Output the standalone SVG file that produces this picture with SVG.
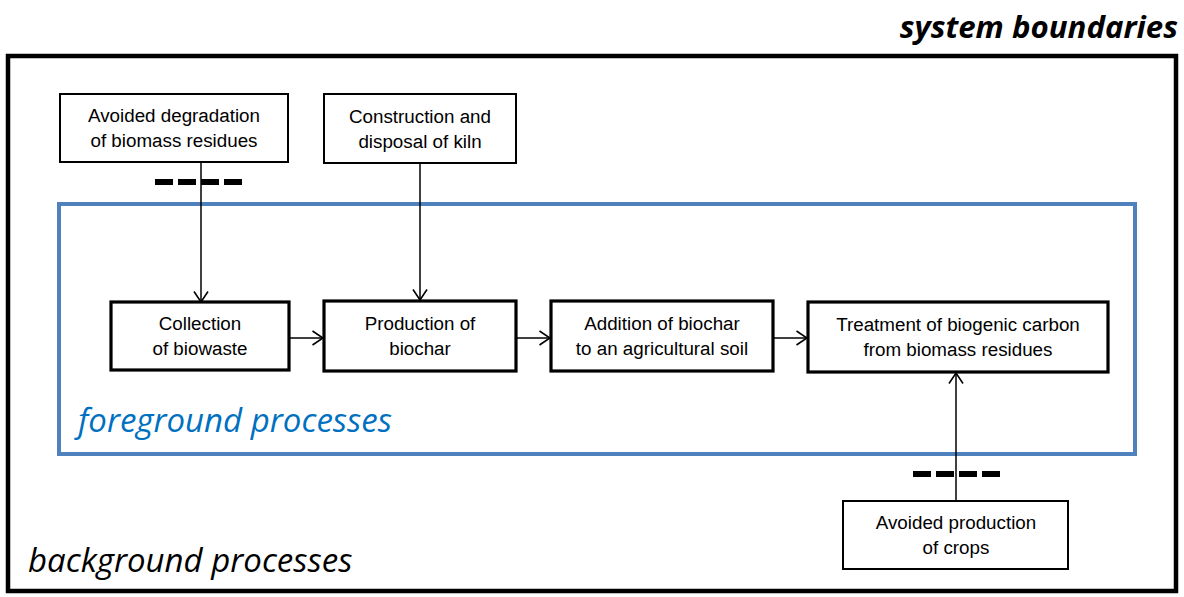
<svg xmlns="http://www.w3.org/2000/svg" width="1184" height="597" viewBox="0 0 1184 597">
<defs>
<marker id="arr" viewBox="0 0 12 16" refX="11.5" refY="8" markerWidth="12" markerHeight="16" markerUnits="userSpaceOnUse" orient="auto">
<path d="M1,1 L11.5,8 L1,15" fill="none" stroke="#000" stroke-width="1.6"/>
</marker>
</defs>
<style>
.t{font-family:"Liberation Sans",Arial,sans-serif;font-size:18.8px;fill:#000;text-anchor:middle}
.thin{fill:#fff;stroke:#000;stroke-width:2}
.thick{fill:#fff;stroke:#000;stroke-width:3.2}
.con{stroke:#000;stroke-width:1.5;fill:none}
.dash{stroke:#000;stroke-width:6;stroke-dasharray:18,5;fill:none}
.lab{font-family:"Open Sans","Liberation Sans",sans-serif;font-style:italic;font-size:33px}
</style>
<rect width="1184" height="597" fill="#fff"/>
<g id="system-boundary">
<rect x="8" y="56" width="1168" height="535" fill="none" stroke="#000" stroke-width="4.5"/>
<text x="1178" y="38" class="lab" style="font-weight:bold;font-size:31.2px" text-anchor="end">system boundaries</text>
<text x="28" y="572" class="lab" fill="#000">background processes</text>
</g>
<g id="foreground">
<rect x="59" y="204" width="1076" height="250" fill="none" stroke="#4F81BD" stroke-width="4"/>
<text x="78" y="432" class="lab" fill="#0070C0">foreground processes</text>
</g>
<g id="connectors">
<line class="con" x1="201" y1="162" x2="201" y2="302" marker-end="url(#arr)"/>
<line class="con" x1="420" y1="163" x2="420" y2="300" marker-end="url(#arr)"/>
<line class="con" x1="289" y1="338" x2="323" y2="338" marker-end="url(#arr)"/>
<line class="con" x1="516" y1="338" x2="550" y2="338" marker-end="url(#arr)"/>
<line class="con" x1="773" y1="338" x2="807" y2="338" marker-end="url(#arr)"/>
<line class="con" x1="956" y1="501" x2="956" y2="373" marker-end="url(#arr)"/>
<line class="dash" x1="155" y1="182" x2="243" y2="182"/>
<line class="dash" x1="913" y1="474" x2="1000" y2="474"/>
</g>
<g id="avoided-degradation">
<rect class="thin" x="60" y="94" width="228" height="68"/>
<text class="t" x="174" y="122">Avoided degradation</text>
<text class="t" x="174" y="147">of biomass residues</text>
</g>
<g id="construction-kiln">
<rect class="thin" x="324" y="94" width="192" height="69"/>
<text class="t" x="420" y="123">Construction and</text>
<text class="t" x="420" y="148">disposal of kiln</text>
</g>
<g id="collection">
<rect class="thick" x="111" y="302" width="178" height="68"/>
<text class="t" x="200" y="330">Collection</text>
<text class="t" x="200" y="355">of biowaste</text>
</g>
<g id="production">
<rect class="thick" x="324" y="301" width="192" height="70"/>
<text class="t" x="420" y="330">Production of</text>
<text class="t" x="420" y="355">biochar</text>
</g>
<g id="addition">
<rect class="thick" x="551" y="301" width="222" height="70"/>
<text class="t" x="662" y="330">Addition of biochar</text>
<text class="t" x="662" y="355">to an agricultural soil</text>
</g>
<g id="treatment">
<rect class="thick" x="808" y="302" width="300" height="70"/>
<text class="t" x="958" y="331">Treatment of biogenic carbon</text>
<text class="t" x="958" y="356">from biomass residues</text>
</g>
<g id="avoided-crops">
<rect class="thin" x="843" y="501" width="225" height="68"/>
<text class="t" x="956" y="529">Avoided production</text>
<text class="t" x="956" y="554">of crops</text>
</g>
</svg>
